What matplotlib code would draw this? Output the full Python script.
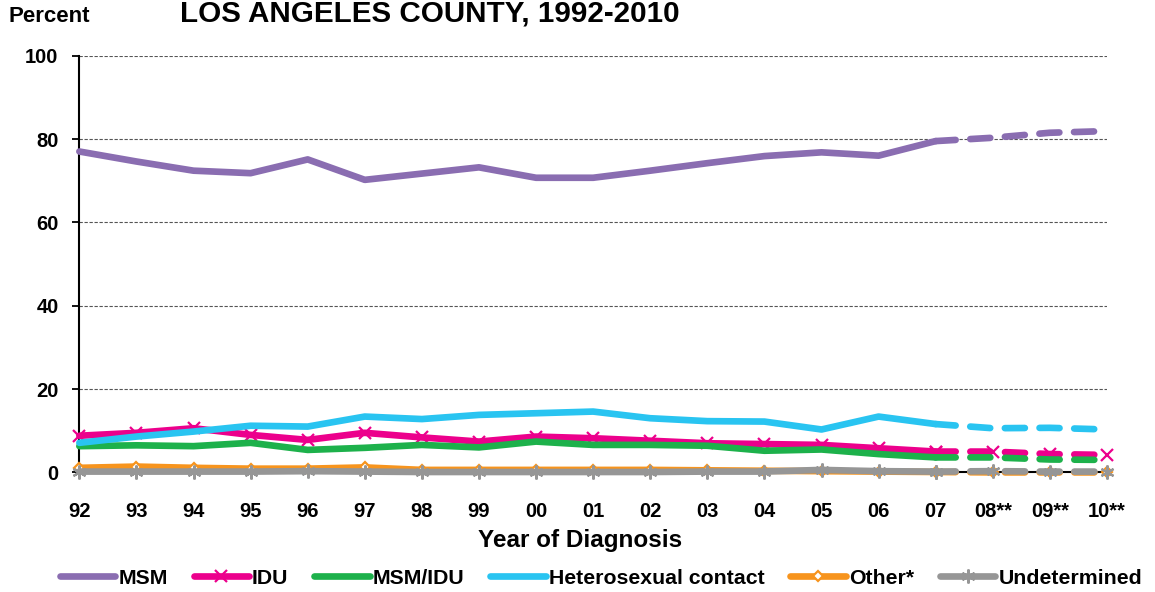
import matplotlib
matplotlib.use("Agg")
import matplotlib.pyplot as plt
import numpy as np
from matplotlib.lines import Line2D

years = ["92", "93", "94", "95", "96", "97", "98", "99", "00", "01", "02",
         "03", "04", "05", "06", "07", "08**", "09**", "10**"]

msm = [77.0, 74.6, 72.4, 71.8, 75.1, 70.2, 71.7, 73.2, 70.7, 70.7, 72.4,
       74.2, 75.9, 76.8, 76.0, 79.5, 80.3, 81.5, 81.9]
idu = [8.8, 9.5, 10.6, 9.0, 7.8, 9.5, 8.4, 7.4, 8.6, 8.2, 7.6,
       7.0, 6.8, 6.6, 5.8, 5.0, 5.0, 4.4, 4.2]
msm_idu = [6.3, 6.5, 6.3, 7.1, 5.4, 5.9, 6.6, 6.0, 7.4, 6.6, 6.6,
           6.4, 5.2, 5.5, 4.4, 3.6, 3.6, 3.1, 3.0]
hetero = [7.1, 8.6, 9.8, 11.2, 11.0, 13.4, 12.8, 13.8, 14.2, 14.6, 13.0,
          12.3, 12.2, 10.3, 13.4, 11.6, 10.6, 10.7, 10.3]
other = [1.1, 1.4, 1.1, 0.9, 0.9, 1.2, 0.6, 0.6, 0.6, 0.6, 0.6,
         0.5, 0.4, 0.3, 0.2, 0.1, 0.0, 0.0, 0.0]
undet = [0.2, 0.2, 0.2, 0.2, 0.3, 0.2, 0.1, 0.1, 0.1, 0.1, 0.1,
         0.2, 0.2, 0.6, 0.3, 0.2, 0.3, 0.2, 0.2]

names = ["MSM", "IDU", "MSM/IDU", "Heterosexual contact", "Other*", "Undetermined"]
colors = ["#8a6db1", "#ec008c", "#1db14b", "#29c4f1", "#f7941d", "#969696"]
markers = [None, "x", None, None, "D", (6, 2, 0)]
msizes = [0, 8, 0, 0, 5, 10]

plt.rcParams["font.family"] = "Liberation Sans"
plt.rcParams["font.weight"] = "bold"

fig = plt.figure(figsize=(11.55, 5.92), dpi=100)
ax = fig.add_axes([0.0687, 0.202, 0.8897, 0.704])

x = np.arange(len(years))
split = 15  # projected years ("**") drawn dashed from 07 onwards
lw = 4.8
handles = []
for vals, name, c, m, ms in zip([msm, idu, msm_idu, hetero, other, undet],
                                names, colors, markers, msizes):
    vals = np.array(vals)
    kw = dict(color=c, lw=lw, marker=m, markersize=ms, markeredgewidth=1.6,
              markerfacecolor="white" if m == "D" else c,
              clip_on=False, zorder=3)
    ax.plot(x[:split + 1], vals[:split + 1], solid_capstyle="round", **kw)
    ax.plot(x[split:], vals[split:], linestyle=(0, (3.0, 2.2)),
            dash_capstyle="round", **kw)
    handles.append(Line2D([], [], color=c, lw=lw, marker=m, markersize=ms,
                          markeredgewidth=1.6,
                          markerfacecolor="white" if m == "D" else c,
                          solid_capstyle="round"))

ax.set_xlim(0, 18)
ax.set_ylim(0, 100)
ax.set_xticks(x)
ax.set_xticklabels(years, fontsize=14.5)
ax.set_yticks(np.arange(0, 101, 20))
ax.tick_params(axis="y", labelsize=14.5, length=5, width=1.3, pad=10)
ax.tick_params(axis="x", length=0, pad=21)
ax.yaxis.grid(True, linestyle=(0, (3, 1.5)), color="#555555", lw=0.8)
ax.set_axisbelow(True)
for s in ["top", "right"]:
    ax.spines[s].set_visible(False)
for s in ["left", "bottom"]:
    ax.spines[s].set_linewidth(1.5)
    ax.spines[s].set_color("black")

fig.text(180 / 1155, 1 - 14 / 592, "LOS ANGELES COUNTY, 1992-2010",
         fontsize=21.3, ha="left", va="center")
fig.text(8 / 1155, 1 - 17 / 592, "Percent", fontsize=16, ha="left", va="center")
fig.text(580 / 1155, 1 - 540 / 592, "Year of Diagnosis", fontsize=17.5,
         ha="center", va="center")

fig.legend(handles, names, loc="center", bbox_to_anchor=(601 / 1155, 1 - 578 / 592),
           ncol=6, frameon=False, handlelength=2.6, handletextpad=0.15,
           columnspacing=1.22, fontsize=15.3)

fig.savefig("out.png", dpi=100)
